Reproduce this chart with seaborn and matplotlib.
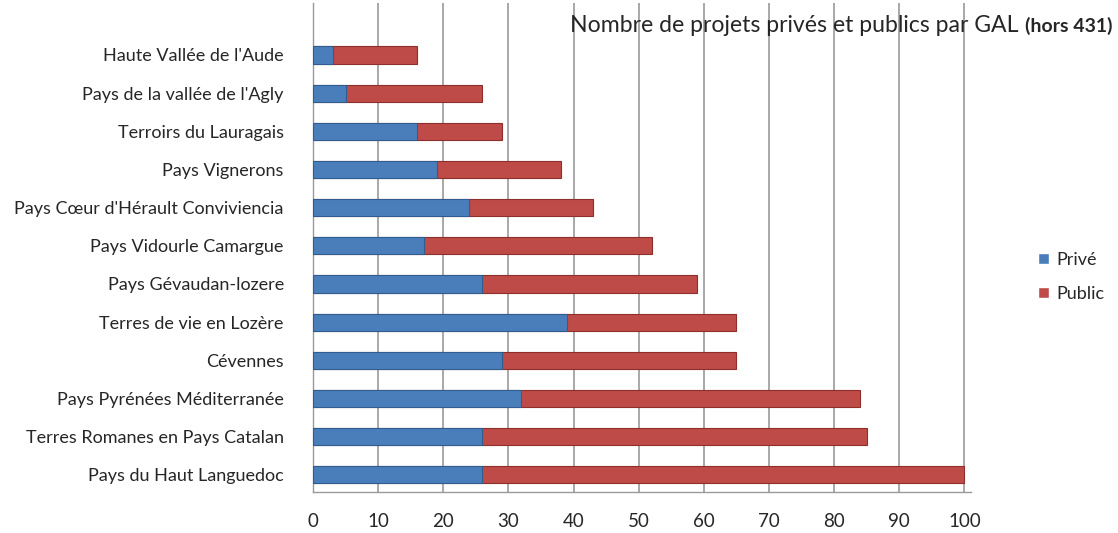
import matplotlib
matplotlib.use("Agg")
import matplotlib.pyplot as plt
import seaborn as sns
import pandas as pd
import numpy as np
from matplotlib.patches import Patch

categories = [
    "Haute Vallée de l'Aude",
    "Pays de la vallée de l'Agly",
    "Terroirs du Lauragais",
    "Pays Vignerons",
    "Pays Cœur d'Hérault Conviviencia",
    "Pays Vidourle Camargue",
    "Pays Gévaudan-lozere",
    "Terres de vie en Lozère",
    "Cévennes",
    "Pays Pyrénées Méditerranée",
    "Terres Romanes en Pays Catalan",
    "Pays du Haut Languedoc",
]
prive = [3, 5, 16, 19, 24, 17, 26, 39, 29, 32, 26, 26]
public = [13, 21, 13, 19, 19, 35, 33, 26, 36, 52, 59, 74]
xticks = list(range(0, 101, 10))

title_main = "Nombre de projets privés et publics par GAL"
title_bold = "(hors 431)"

df = pd.DataFrame({"GAL": categories, "Privé": prive, "Public": public})
df["Total"] = df["Privé"] + df["Public"]

sns.set_theme(style="white")
plt.rcParams["font.family"] = ["Lato", "DejaVu Sans"]

BLUE = "#4A7EBB"
RED = "#BE4B48"
TXT = "#262626"
GRID = "#9A9A9A"

fig = plt.figure(figsize=(11.18, 5.33), dpi=100)
ax = fig.add_axes([313 / 1118, 1 - 492 / 533, (971 - 313) / 1118, (492 - 3) / 533])

sns.barplot(data=df, x="Total", y="GAL", orient="h", color=RED, saturation=1,
            width=0.45, edgecolor="#8E2F2C", linewidth=0.8, ax=ax, zorder=3)
sns.barplot(data=df, x="Privé", y="GAL", orient="h", color=BLUE, saturation=1,
            width=0.45, edgecolor="#2F5D91", linewidth=0.8, ax=ax, zorder=4)

ax.set_xlim(0, 101)
ax.set_ylim(11.45, -1.36)
ax.set_xticks(xticks)
ax.set_xticklabels([str(t) for t in xticks], fontsize=13.5, color=TXT)
ax.tick_params(axis="y", which="major", length=0, pad=21, labelsize=13, labelcolor=TXT)
ax.set_yticks(np.arange(-0.5, 11.5, 1), minor=True)
ax.tick_params(axis="y", which="minor", length=5, color=GRID, direction="out")
ax.tick_params(axis="x", which="major", length=5, color=GRID, direction="out", pad=10)
ax.set_xlabel("")
ax.set_ylabel("")
ax.grid(axis="x", color=GRID, linewidth=1.2, zorder=0)
ax.set_axisbelow(True)
for s in ["top", "right"]:
    ax.spines[s].set_visible(False)
for s in ["left", "bottom"]:
    ax.spines[s].set_color(GRID)
    ax.spines[s].set_linewidth(1.0)

fig.text(1019 / 1118, 1 - 25 / 533, title_main, ha="right", va="center",
         fontsize=16.6, color=TXT)
fig.text(1025 / 1118, 1 - 26 / 533, title_bold, ha="left", va="center",
         fontsize=14, fontweight="bold", color=TXT)

handles = [Patch(facecolor=BLUE, label="Privé"), Patch(facecolor=RED, label="Public")]
fig.legend(handles=handles, loc="center left", bbox_to_anchor=(1022 / 1118, 1 - 277 / 533),
           frameon=False, fontsize=13, handlelength=0.6, handleheight=0.6,
           handletextpad=0.4, labelspacing=1.0, labelcolor=TXT)

fig.savefig("out.png", dpi=100, facecolor="white")
